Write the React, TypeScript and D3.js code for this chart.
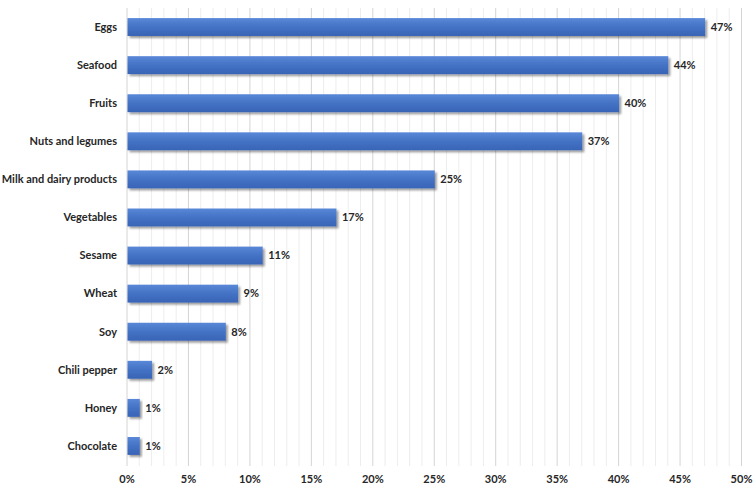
import React from "react";
import * as d3 from "d3";

const categories = ["Eggs", "Seafood", "Fruits", "Nuts and legumes", "Milk and dairy products", "Vegetables", "Sesame", "Wheat", "Soy", "Chili pepper", "Honey", "Chocolate"];
const values = [47, 44, 40, 37, 25, 17, 11, 9, 8, 2, 1, 1];
const majorTicks = [0, 5, 10, 15, 20, 25, 30, 35, 40, 45, 50];

const W = 753, H = 491;
const FONT = "Lato, 'Open Sans', sans-serif";

export default function App() {
  const x = d3.scaleLinear().domain([0, 50]).range([127, 741.5]);
  const y = d3.scaleBand<string>().domain(categories).range([8, 465]).paddingInner(0.53).paddingOuter(0.265);
  const minor = d3.range(0, 51, 1);
  return (
    <div style={{ position: "absolute", left: 0, top: 0 }}>
      <svg width={W} height={H} style={{ display: "block" }}>
        <defs>
          <linearGradient id="barGrad" x1="0" y1="0" x2="0" y2="1">
            <stop offset="0%" stopColor="#5A88D8" />
            <stop offset="50%" stopColor="#4472C4" />
            <stop offset="100%" stopColor="#3864B6" />
          </linearGradient>
          <filter id="shadow" x="-10%" y="-30%" width="130%" height="180%">
            <feGaussianBlur in="SourceAlpha" stdDeviation="1.2" />
            <feOffset dx="1.5" dy="2" result="b" />
            <feComponentTransfer><feFuncA type="linear" slope="0.4" /></feComponentTransfer>
            <feMerge><feMergeNode /><feMergeNode in="SourceGraphic" /></feMerge>
          </filter>
        </defs>
        <rect width={W} height={H} fill="#fff" />
        {minor.map((t) => (
          <line key={"m" + t} x1={x(t)} x2={x(t)} y1={8} y2={466} stroke={t % 5 === 0 ? "#D4D4D4" : "#EDEDED"} strokeWidth={1} />
        ))}
        {categories.map((c, i) => (
          <g key={c}>
            <rect x={x(0) + 0.5} y={y(c)!} width={x(values[i]) - x(0)} height={y.bandwidth()} fill="url(#barGrad)" filter="url(#shadow)" />
            <text x={117} y={y(c)! + y.bandwidth() / 2} dy="0.35em" textAnchor="end" fontFamily={FONT} fontWeight="bold" fontSize={11} fill="#262626">{c}</text>
            <text x={x(values[i]) + 6} y={y(c)! + y.bandwidth() / 2} dy="0.35em" fontFamily={FONT} fontWeight="bold" fontSize={11} fill="#262626">{values[i]}%</text>
          </g>
        ))}
        {majorTicks.map((t) => (
          <text key={"t" + t} x={x(t)} y={479} dy="0.35em" textAnchor="middle" fontFamily={FONT} fontWeight="bold" fontSize={11} fill="#262626">{t}%</text>
        ))}
      </svg>
    </div>
  );
}
